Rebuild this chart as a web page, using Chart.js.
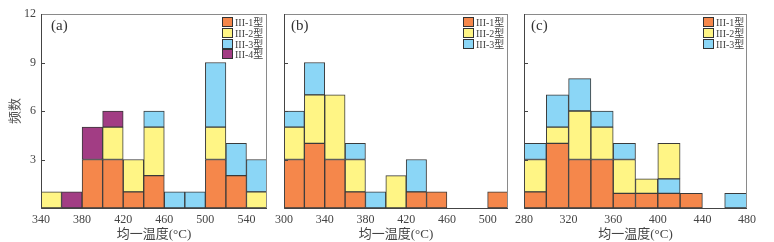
<!DOCTYPE html>
<html>
<head>
<meta charset="utf-8">
<script src="https://cdn.jsdelivr.net/npm/chart.js@4/dist/chart.umd.min.js"></script>
<style>
  body { margin: 0; background: #fff; }
  #wrap { position: relative; width: 774px; height: 242px; overflow: hidden; }
  .pane { position: absolute; top: 0; height: 242px; }
  .tag { position: absolute; top: 17px; font: 15px "Liberation Serif", serif; color: #333; }
  .legend { position: absolute; top: 17px; font: 10px "Liberation Serif", "Noto Sans CJK SC", serif; color: #444; }
  .legend div { white-space: nowrap; height: 10.8px; line-height: 10.8px; }
  .legend span { display: inline-block; width: 9px; height: 8px; border: 1px solid #333; vertical-align: -1px; margin-right: 2px; }
</style>
</head>
<body>
<div id="wrap">
  <div class="pane" style="left:0;width:282px"><canvas id="ca"></canvas></div>
  <div class="pane" style="left:270px;width:252px"><canvas id="cb"></canvas></div>
  <div class="pane" style="left:510px;width:264px"><canvas id="cc"></canvas></div>
</div>
<script>
// bin starts (20 °C wide)
const binsA = [340, 360, 380, 400, 420, 440, 460, 480, 500, 520, 540]
const binsB = [300, 320, 340, 360, 380, 400, 420, 440, 460, 480, 500]
const binsC = [280, 300, 320, 340, 360, 380, 400, 420, 440, 460]

const ticksA = [340, 380, 420, 460, 500, 540]
const ticksB = [300, 340, 380, 420, 460, 500]
const ticksC = [280, 320, 360, 400, 440, 480]
const yTicks = [0, 3, 6, 9, 12]

// (a)
const a1 = [0, 0, 3, 3, 1, 2, 0, 0, 3, 2, 0]
const a2 = [1, 0, 0, 2, 2, 3, 0, 0, 2, 0, 1]
const a3 = [0, 0, 0, 0, 0, 1, 1, 1, 4, 2, 2]
const a4 = [0, 1, 2, 1, 0, 0, 0, 0, 0, 0, 0]
// (b)
const b1 = [3, 4, 3, 1, 0, 0, 1, 1, 0, 0, 1]
const b2 = [2, 3, 4, 2, 0, 2, 0, 0, 0, 0, 0]
const b3 = [1, 2, 0, 1, 1, 0, 2, 0, 0, 0, 0]
// (c) - at 400-420 the III-3 part sits under III-2
const c1 = [1, 4, 3, 3, 0.9, 0.9, 0.9, 0.9, 0, 0]
const c3low = [0, 0, 0, 0, 0, 0, 0.9, 0, 0, 0]
const c2 = [2, 1, 3, 2, 2.1, 0.9, 2.2, 0, 0, 0]
const c3 = [1, 2, 2, 1, 1, 0, 0, 0, 0, 0.9]

const names = ['III-1型', 'III-2型', 'III-3型', 'III-4型']
const colors = ['#f5874b', '#fff585', '#8bd6f6', '#a23d84']

const serif = '"Liberation Serif", "Noto Sans CJK SC", serif'

function pts(bins, vals) {
    return bins.map((b, i) => ({ x: b + 10, y: vals[i] ? vals[i] : null }))
}

function ds(label, bins, vals, ci) {
    return {
        label: label,
        data: pts(bins, vals),
        backgroundColor: colors[ci],
        borderColor: '#3a3a3a',
        borderWidth: 1,
        borderSkipped: false,
        barPercentage: 1,
        categoryPercentage: 1
    }
}

const frame = {
    id: 'frame',
    afterDraw(chart) {
        const c = chart.ctx, a = chart.chartArea
        c.save()
        c.strokeStyle = '#8a8a8a'
        c.lineWidth = 1
        c.strokeRect(a.left + 0.5, a.top + 0.5, a.right - a.left - 1, a.bottom - a.top)
        c.strokeStyle = '#444'
        c.beginPath()
        c.moveTo(a.left + 0.5, a.top)
        c.lineTo(a.left + 0.5, a.bottom + 0.5)
        c.lineTo(a.right, a.bottom + 0.5)
        const y = chart.scales.y
        for (const v of [3, 6, 9]) {
            const py = Math.round(y.getPixelForValue(v)) + 0.5
            c.moveTo(a.left, py)
            c.lineTo(a.left + 4, py)
        }
        c.stroke()
        c.restore()
    }
}

function makeChart(id, datasets, xmin, xmax, xticks, pad, showY) {
    return new Chart(document.getElementById(id), {
        type: 'bar',
        data: { datasets: datasets },
        options: {
            responsive: false,
            animation: false,
            maintainAspectRatio: false,
            layout: { padding: pad },
            plugins: { legend: { display: false }, tooltip: { enabled: false } },
            scales: {
                x: {
                    type: 'linear',
                    stacked: true,
                    offset: false,
                    min: xmin,
                    max: xmax,
                    grid: { display: false, drawTicks: false, offset: false },
                    border: { display: false },
                    afterBuildTicks: s => { s.ticks = xticks.map(v => ({ value: v })) },
                    afterFit: s => { s.height = 34 },
                    ticks: {
                        autoSkip: false,
                        maxRotation: 0,
                        padding: 5,
                        color: '#444',
                        font: { family: serif, size: 12 },
                        callback: v => String(v)
                    },
                    title: {
                        display: true,
                        text: '均一温度(°C)',
                        color: '#444',
                        padding: { top: 0, bottom: 0 },
                        font: { family: serif, size: 13 }
                    }
                },
                y: {
                    stacked: true,
                    min: 0,
                    max: 12,
                    display: showY,
                    grid: { display: false, drawTicks: false },
                    border: { display: false },
                    afterBuildTicks: s => { s.ticks = yTicks.map(v => ({ value: v })) },
                    afterFit: s => { s.width = showY ? 41 : 0 },
                    ticks: {
                        padding: 5,
                        color: '#444',
                        font: { family: serif, size: 12 },
                        callback: v => v === 0 ? '' : String(v)
                    },
                    title: {
                        display: true,
                        text: '频数',
                        color: '#555',
                        padding: { top: 8, bottom: 0 },
                        font: { family: serif, size: 13 }
                    }
                }
            }
        },
        plugins: [frame]
    })
}

for (const [id, w] of [['ca', 282], ['cb', 252], ['cc', 264]]) {
    const cv = document.getElementById(id)
    cv.width = w
    cv.height = 242
    cv.style.width = w + 'px'
    cv.style.height = '242px'
}

makeChart('ca', [
    ds(names[0], binsA, a1, 0),
    ds(names[1], binsA, a2, 1),
    ds(names[2], binsA, a3, 2),
    ds(names[3], binsA, a4, 3)
], 340, 560, ticksA, { top: 14, left: 0, right: 15, bottom: 0 }, true)

makeChart('cb', [
    ds(names[0], binsB, b1, 0),
    ds(names[1], binsB, b2, 1),
    ds(names[2], binsB, b3, 2)
], 300, 520, ticksB, { top: 14, left: 12, right: 14, bottom: 0 }, false)

makeChart('cc', [
    ds(names[0], binsC, c1, 0),
    ds(names[2], binsC, c3low, 2),
    ds(names[1], binsC, c2, 1),
    ds(names[2], binsC, c3, 2)
], 280, 480, ticksC, { top: 14, left: 12, right: 27, bottom: 0 }, false)

// panel tags and legends
const wrap = document.getElementById('wrap')
const panels = [['(a)', 51, 222, 4], ['(b)', 291, 463, 3], ['(c)', 531, 703, 3]]
for (const [tag, tx, lx, n] of panels) {
    const t = document.createElement('div')
    t.className = 'tag'
    t.style.left = tx + 'px'
    t.textContent = tag
    wrap.appendChild(t)
    const lg = document.createElement('div')
    lg.className = 'legend'
    lg.style.left = lx + 'px'
    for (let i = 0; i < n; i++) {
        const row = document.createElement('div')
        const sw = document.createElement('span')
        sw.style.background = colors[i]
        row.appendChild(sw)
        row.appendChild(document.createTextNode(names[i]))
        lg.appendChild(row)
    }
    wrap.appendChild(lg)
}
</script>
</body>
</html>
